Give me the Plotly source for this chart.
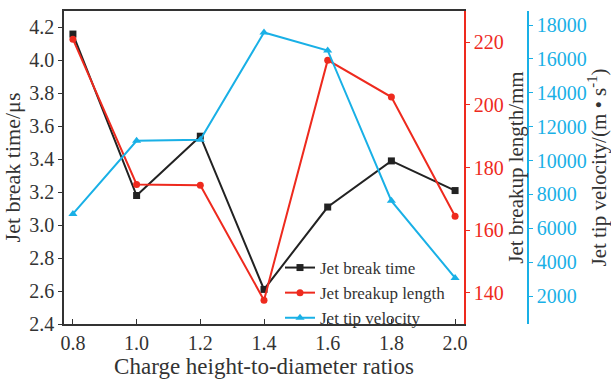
import plotly.graph_objects as go

ratios = [0.8, 1.0, 1.2, 1.4, 1.6, 1.8, 2.0]
break_time = [4.16, 3.18, 3.54, 2.61, 3.11, 3.39, 3.21]
breakup_length = [221.0, 174.6, 174.3, 137.6, 214.3, 202.5, 164.4]
tip_velocity = [6850, 11170, 11230, 17560, 16500, 7620, 3070]

BLACK = "#222222"
RED = "#ee2a1e"
BLUE = "#19b0e6"
FONT = "Liberation Serif"

fig = go.Figure()
fig.add_trace(go.Scatter(x=ratios, y=break_time, name="Jet break time", mode="lines+markers",
                         line=dict(color=BLACK, width=2), marker=dict(symbol="square", size=7, color=BLACK),
                         xaxis="x", yaxis="y"))
fig.add_trace(go.Scatter(x=ratios, y=breakup_length, name="Jet breakup length", mode="lines+markers",
                         line=dict(color=RED, width=2), marker=dict(symbol="circle", size=7, color=RED),
                         xaxis="x", yaxis="y2"))
fig.add_trace(go.Scatter(x=ratios, y=tip_velocity, name="Jet tip velocity", mode="lines+markers",
                         line=dict(color=BLUE, width=2), marker=dict(symbol="triangle-up", size=8, color=BLUE),
                         xaxis="x", yaxis="y3"))

W, H = 611, 383
L, R, T, B = 64, 83, 11, 59
pw = W - L - R
ph = H - T - B
dom_end = (464 - L) / pw

fig.update_layout(
    width=W, height=H,
    margin=dict(l=L, r=R, t=T, b=B, pad=0, autoexpand=False),
    paper_bgcolor="white", plot_bgcolor="white",
    font=dict(family=FONT, size=20, color="#333333"),
    showlegend=True,
    legend=dict(x=(280 - L) / pw, y=(324 - 250) / ph, xanchor="left", yanchor="top",
                bgcolor="rgba(0,0,0,0)", font=dict(family=FONT, size=17, color="#333333"),
                tracegroupgap=0, itemwidth=30),
    xaxis=dict(domain=[0, dom_end], range=[0.772, 2.028], tickvals=ratios, tickformat=".1f",
               showline=True, linecolor="#333333", linewidth=1.5, mirror=True, automargin=False,
               ticks="inside", ticklen=5, tickcolor="#333333", showgrid=False, zeroline=False,
               title=dict(text="Charge height-to-diameter ratios", font=dict(size=23), standoff=2)),
    yaxis=dict(range=[2.4, 4.3], tickvals=[2.4, 2.6, 2.8, 3.0, 3.2, 3.4, 3.6, 3.8, 4.0, 4.2], tickformat=".1f",
               showline=True, linecolor="#333333", linewidth=1.5, automargin=False,
               ticks="outside", ticklen=4, tickcolor="#333333", showgrid=False, zeroline=False,
               title=dict(text="Jet break time/μs", font=dict(size=22), standoff=6)),
    yaxis2=dict(range=[130, 230], tickvals=[140, 160, 180, 200, 220], overlaying="y", side="right", anchor="x",
                showline=True, linecolor=RED, linewidth=1.5, ticks="outside", ticklen=4, tickcolor=RED,
                tickfont=dict(color=RED), showgrid=False, zeroline=False, automargin=False,
                title=dict(text="Jet breakup length/mm", font=dict(size=21, color="#333333"), standoff=2)),
    yaxis3=dict(range=[350, 18830], tickvals=[2000, 4000, 6000, 8000, 10000, 12000, 14000, 16000, 18000],
                tickformat="d", overlaying="y", side="right", anchor="free", position=1.0,
                showline=True, linecolor=BLUE, linewidth=1.5, ticks="outside", ticklen=4, tickcolor=BLUE,
                tickfont=dict(color=BLUE), showgrid=False, zeroline=False, automargin=False,
                title=dict(text="Jet tip velocity/(m • s<sup>-1</sup>)", font=dict(size=21, color="#333333"), standoff=0)),
)

fig.write_html("out.html", config={"displayModeBar": False},
               post_script="document.body.style.margin='0';document.body.style.overflow='hidden';")
